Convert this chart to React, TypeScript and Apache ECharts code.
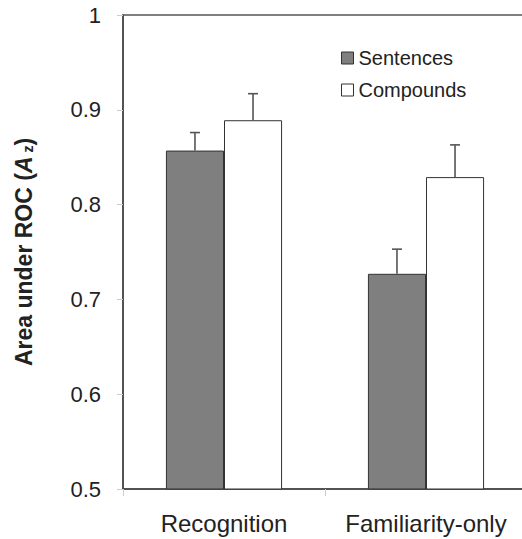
import React, { useEffect, useRef } from "react";
import * as echarts from "echarts";

const categories = ["Recognition", "Familiarity-only"];
const sentences = [0.857, 0.727];
const sentencesErr = [0.019, 0.026];
const compounds = [0.889, 0.829];
const compoundsErr = [0.028, 0.034];
const yTicks = [0.5, 0.6, 0.7, 0.8, 0.9, 1];

const FONT = "'Liberation Sans', Arial, sans-serif";
const CAT_GAP = 0.425;

export default function App() {
  const ref = useRef<HTMLDivElement>(null);
  useEffect(() => {
    if (!ref.current) return;
    const chart = echarts.init(ref.current, null, { renderer: "svg" });
    const errData = (vals: number[], errs: number[], side: number) =>
      vals.map((v, i) => [i, v, errs[i], side]);
    const renderErr = (params: any, api: any) => {
      const cat = api.value(0);
      const v = api.value(1);
      const e = api.value(2);
      const side = api.value(3);
      const bandW = api.size([1, 0])[0];
      const barW = (bandW * (1 - CAT_GAP)) / 2;
      const base = api.coord([cat, v]);
      const top = api.coord([cat, v + e]);
      const x = base[0] + (side * barW) / 2;
      const style = { stroke: "#555", lineWidth: 1.6 };
      return {
        type: "group",
        children: [
          { type: "line", shape: { x1: x, y1: base[1], x2: x, y2: top[1] }, style },
          { type: "line", shape: { x1: x - 5, y1: top[1], x2: x + 5, y2: top[1] }, style },
        ],
      };
    };
    chart.setOption({
      animation: false,
      textStyle: { fontFamily: FONT, color: "#222" },
      grid: {
        left: 123,
        top: 15,
        width: 404,
        bottom: 50,
        outerBoundsMode: "none",
        containLabel: false,
        show: true,
        borderColor: "#555",
        borderWidth: 1.5,
        backgroundColor: "transparent",
      },
      legend: {
        orient: "vertical",
        left: 336,
        top: 43,
        itemGap: 12,
        itemWidth: 12,
        itemHeight: 12,
        icon: "rect",
        textStyle: { fontSize: 20, color: "#222", fontFamily: FONT },
        data: [
          { name: "Sentences", itemStyle: { color: "#7f7f7f", borderColor: "#333", borderWidth: 1 } },
          { name: "Compounds", itemStyle: { color: "#fff", borderColor: "#333", borderWidth: 1 } },
        ],
      },
      xAxis: {
        type: "category",
        data: categories,
        axisLine: { lineStyle: { color: "#444", width: 1.5 } },
        axisTick: { show: true, length: 7, lineStyle: { color: "#ccc" } },
        axisLabel: { fontSize: 24, color: "#222", margin: 22, fontFamily: FONT, interval: 0, hideOverlap: false },
      },
      yAxis: {
        type: "value",
        min: 0.5,
        max: 1,
        interval: 0.1,
        splitLine: { show: false },
        axisLine: { show: true, lineStyle: { color: "#444", width: 1.5 } },
        axisTick: { show: true, length: 6, lineStyle: { color: "#ccc" } },
        axisLabel: {
          fontSize: 22,
          color: "#222",
          margin: 22,
          fontFamily: FONT,
          formatter: (v: number) => {
            const t = yTicks.find((k) => Math.abs(k - v) < 1e-6);
            return t === 1 ? "1" : (t ?? v).toFixed(1);
          },
        },
        name: "{b|Area under ROC (}{i|A}{s| z}{b|)}",
        nameLocation: "middle",
        nameGap: 88,
        nameRotate: 90,
        nameTextStyle: {
          rich: {
            b: { fontSize: 23, fontWeight: "bold", color: "#222", fontFamily: FONT },
            i: { fontSize: 23, fontWeight: "bold", fontStyle: "italic", color: "#222", fontFamily: FONT },
            s: { fontSize: 14, fontWeight: "bold", color: "#222", fontFamily: FONT, verticalAlign: "bottom" },
          },
        },
      },
      series: [
        {
          name: "Sentences",
          type: "bar",
          data: sentences,
          barGap: "0%",
          barCategoryGap: CAT_GAP * 100 + "%",
          itemStyle: { color: "#7f7f7f", borderColor: "#333", borderWidth: 1 },
        },
        {
          name: "Compounds",
          type: "bar",
          data: compounds,
          barGap: "0%",
          barCategoryGap: CAT_GAP * 100 + "%",
          itemStyle: { color: "#fff", borderColor: "#333", borderWidth: 1 },
        },
        {
          type: "custom",
          data: errData(sentences, sentencesErr, -1),
          encode: { x: 0, y: 1 },
          renderItem: renderErr,
          z: 3,
        },
        {
          type: "custom",
          data: errData(compounds, compoundsErr, 1),
          encode: { x: 0, y: 1 },
          renderItem: renderErr,
          z: 3,
        },
      ],
    });
    return () => chart.dispose();
  }, []);
  return (
    <div
      ref={ref}
      style={{ position: "fixed", left: 0, top: 0, width: 522, height: 539, background: "#fff" }}
    />
  );
}
